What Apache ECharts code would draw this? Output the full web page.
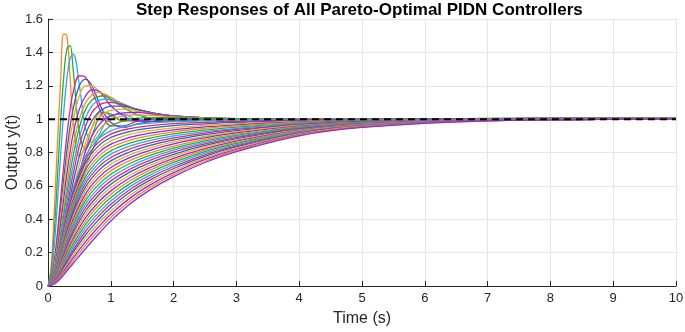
<!DOCTYPE html>
<html>
<head>
<meta charset="utf-8">
<script src="https://cdn.jsdelivr.net/npm/echarts@6/dist/echarts.min.js"></script>
<style>
  html, body { margin: 0; padding: 0; background: #fff; }
  #chart { width: 685px; height: 332px; }
</style>
</head>
<body>
<div id="chart"></div>
<script>
// time samples (s)
const tFast = [0, 0.05, 0.1, 0.15, 0.2, 0.25, 0.3, 0.35, 0.4, 0.5, 0.6, 0.7, 0.8, 0.9, 1.0, 1.2, 1.4, 1.7, 2, 2.5, 3, 4, 6, 10];
const tSlow = [0, 0.1, 0.2, 0.3, 0.4, 0.6, 0.8, 1.0, 1.3, 1.6, 2, 2.5, 3, 4, 5, 7, 10];

// responses with overshoot, sampled at tFast
const overshootCurves = [
  [0, .12, .45, .85, 1.22, 1.51, 1.50, 1.26, 1.00, .78, .83, .95, 1.03, 1.04, 1.02, .99, .995, 1.0, 1.0, 1.0, 1.0, 1.0, 1.002, 1.008],
  [0, .08, .32, .65, .98, 1.25, 1.42, 1.44, 1.30, .92, .82, .90, 1.0, 1.04, 1.03, .99, .99, 1.0, 1.0, 1.0, 1.0, 1.0, 1.002, 1.008],
  [0, .06, .24, .50, .78, 1.04, 1.24, 1.36, 1.39, 1.20, .94, .86, .90, .97, 1.02, 1.03, 1.0, .995, 1.0, 1.0, 1.0, 1.0, 1.002, 1.008],
  [0, .04, .15, .32, .52, .72, .90, 1.05, 1.16, 1.26, 1.25, 1.17, 1.08, 1.0, .96, .96, .985, 1.0, 1.005, 1.003, 1.0, 1.0, 1.002, 1.006],
  [0, .035, .13, .28, .46, .64, .81, .95, 1.06, 1.20, 1.24, 1.20, 1.11, 1.03, .98, .95, .97, .99, 1.0, 1.002, 1.0, 1.0, 1.002, 1.006],
  [0, .03, .12, .25, .41, .58, .74, .88, .99, 1.14, 1.20, 1.20, 1.17, 1.14, 1.11, 1.075, 1.05, 1.03, 1.018, 1.008, 1.003, 1.0, 1.002, 1.006],
  [0, .03, .10, .22, .37, .52, .67, .80, .91, 1.06, 1.14, 1.175, 1.17, 1.13, 1.08, 1.02, .99, .985, .99, 1.0, 1.0, 1.0, 1.002, 1.006],
  [0, .025, .09, .19, .32, .46, .60, .73, .84, 1.0, 1.10, 1.145, 1.16, 1.15, 1.13, 1.09, 1.06, 1.035, 1.02, 1.008, 1.003, 1.0, 1.002, 1.006],
  [0, .02, .08, .17, .29, .42, .55, .67, .78, .95, 1.06, 1.115, 1.135, 1.14, 1.12, 1.07, 1.03, 1.0, .99, .995, 1.0, 1.0, 1.002, 1.006],
  [0, .02, .07, .15, .26, .38, .50, .62, .72, .89, 1.01, 1.08, 1.11, 1.12, 1.115, 1.09, 1.06, 1.035, 1.02, 1.008, 1.003, 1.0, 1.002, 1.006],
  [0, .018, .065, .14, .24, .35, .46, .57, .67, .84, .96, 1.04, 1.08, 1.097, 1.10, 1.085, 1.06, 1.035, 1.02, 1.008, 1.003, 1.0, 1.002, 1.006],
  [0, .015, .06, .13, .22, .32, .42, .52, .62, .78, .91, .99, 1.04, 1.065, 1.078, 1.078, 1.06, 1.035, 1.02, 1.008, 1.003, 1.0, 1.002, 1.006],
  [0, .015, .055, .12, .20, .29, .39, .48, .57, .73, .86, .95, 1.0, 1.035, 1.052, 1.06, 1.05, 1.03, 1.018, 1.008, 1.003, 1.0, 1.002, 1.006],
  [0, .013, .05, .11, .18, .27, .36, .45, .53, .68, .81, .90, .96, 1.0, 1.02, 1.038, 1.04, 1.03, 1.018, 1.008, 1.003, 1.0, 1.002, 1.006],
  [0, .012, .045, .10, .17, .25, .33, .41, .49, .63, .76, .86, .93, .97, .995, 1.02, 1.025, 1.022, 1.015, 1.007, 1.003, 1.0, 1.002, 1.006],
  [0, .011, .04, .09, .155, .23, .31, .38, .45, .59, .71, .81, .88, .93, .96, .99, 1.005, 1.01, 1.01, 1.006, 1.003, 1.0, 1.002, 1.006]
];

// overdamped responses, fastest first, sampled at tSlow
const dampedCurves = [
  [0, .08, .25, .43, .58, .78, .88, .93, .96, .975, .985, .99, .994, .998, 1, 1, 1],
  [0, .077, .242, .417, .564, .759, .859, .91, .943, .96, .973, .981, .987, .995, .998, 1, 1],
  [0, .075, .235, .405, .547, .739, .838, .89, .925, .945, .961, .972, .98, .991, .996, .999, 1],
  [0, .072, .227, .392, .531, .718, .817, .87, .908, .93, .948, .962, .973, .987, .994, .999, 1],
  [0, .07, .22, .38, .514, .698, .796, .85, .89, .915, .936, .953, .966, .983, .993, .999, 1],
  [0, .067, .212, .367, .498, .677, .774, .83, .873, .9, .924, .944, .959, .98, .991, .998, 1],
  [0, .065, .204, .354, .481, .657, .753, .81, .856, .885, .912, .934, .952, .976, .989, .998, 1],
  [0, .062, .197, .342, .465, .636, .732, .79, .838, .87, .899, .925, .945, .973, .987, .997, 1],
  [0, .06, .189, .329, .448, .616, .711, .77, .821, .855, .887, .916, .938, .969, .985, .997, 1],
  [0, .057, .182, .317, .432, .595, .69, .75, .803, .84, .875, .907, .931, .965, .983, .997, 1],
  [0, .055, .174, .304, .415, .575, .669, .73, .786, .825, .863, .897, .924, .962, .981, .996, 1],
  [0, .052, .166, .291, .399, .554, .648, .71, .769, .81, .851, .888, .917, .958, .98, .996, 1],
  [0, .05, .159, .279, .382, .533, .627, .69, .751, .795, .838, .879, .91, .954, .978, .996, 1],
  [0, .047, .151, .266, .366, .513, .606, .67, .734, .78, .826, .87, .903, .951, .976, .995, 1],
  [0, .045, .144, .254, .349, .492, .584, .65, .716, .765, .814, .86, .896, .947, .974, .995, 1],
  [0, .042, .136, .241, .333, .472, .563, .63, .699, .75, .802, .851, .889, .944, .972, .994, 1],
  [0, .04, .128, .228, .316, .451, .542, .61, .682, .735, .789, .842, .882, .94, .97, .994, 1],
  [0, .037, .121, .216, .3, .431, .521, .59, .664, .72, .777, .833, .875, .936, .969, .994, 1],
  [0, .035, .113, .203, .283, .41, .5, .57, .647, .705, .765, .823, .868, .933, .967, .993, 1],
  [0, .032, .106, .191, .267, .389, .479, .55, .629, .69, .753, .814, .861, .929, .965, .993, 1],
  [0, .03, .098, .178, .25, .369, .458, .53, .612, .675, .741, .805, .854, .925, .963, .993, 1],
  [0, .027, .091, .166, .234, .348, .437, .51, .594, .66, .728, .796, .847, .922, .961, .992, 1],
  [0, .025, .083, .153, .217, .328, .416, .49, .577, .645, .716, .786, .84, .918, .959, .992, 1],
  [0, .022, .075, .14, .201, .307, .394, .47, .56, .63, .704, .777, .833, .915, .957, .991, 1],
  [0, .02, .068, .128, .184, .287, .373, .45, .542, .615, .692, .768, .826, .911, .956, .991, 1],
  [0, .017, .06, .115, .168, .266, .352, .43, .525, .6, .679, .759, .819, .907, .954, .991, 1],
  [0, .015, .053, .103, .151, .246, .331, .41, .507, .585, .667, .749, .812, .904, .952, .99, 1],
  [0, .012, .045, .09, .135, .225, .31, .39, .49, .57, .655, .74, .805, .9, .95, .99, 1]
];

const palette = ['#F08A2C', '#35A63A', '#22AEE8', '#E2237F', '#2464C8', '#F2AA1F', '#8A2BE2'];
const yTicks = [0, 0.2, 0.4, 0.6, 0.8, 1, 1.2, 1.4, 1.6];
const refLevel = 1;

const makeLine = (times, vals, color) => ({
  type: 'line',
  data: times.map((t, i) => [t, vals[i]]),
  smooth: 0.4,
  showSymbol: false,
  silent: true,
  lineStyle: { color, width: 1.3 },
  z: 2
});

const series = [];
overshootCurves.forEach(c => series.push(makeLine(tFast, c, palette[series.length % palette.length])));
dampedCurves.forEach((c, k) => {
  const color = k === dampedCurves.length - 1 ? '#8A2BE2' : palette[series.length % palette.length];
  series.push(makeLine(tSlow, c, color));
});
series.push({
  type: 'line',
  data: [[0, refLevel], [10, refLevel]],
  showSymbol: false,
  silent: true,
  lineStyle: { color: '#000', width: 2, type: [7, 5] },
  z: 5
});

const chart = echarts.init(document.getElementById('chart'), null, { renderer: 'canvas' });
chart.setOption({
  animation: false,
  backgroundColor: '#fff',
  textStyle: { fontFamily: 'Liberation Sans, Arial, sans-serif' },
  title: {
    text: 'Step Responses of All Pareto-Optimal PIDN Controllers',
    left: 136,
    top: 2,
    padding: 0,
    textStyle: { fontSize: 17, fontWeight: 'bold', color: '#000', fontFamily: 'Liberation Sans, Arial, sans-serif' }
  },
  grid: { left: 48, right: 9, top: 19, bottom: 46, containLabel: false, outerBoundsMode: 'none' },
  xAxis: {
    type: 'value',
    min: 0,
    max: 10,
    interval: 1,
    name: 'Time (s)',
    nameLocation: 'middle',
    nameGap: 25,
    nameMoveOverlap: false,
    nameTextStyle: { fontSize: 16, color: '#262626' },
    axisLine: { show: true, lineStyle: { color: '#262626', width: 1 } },
    axisTick: { show: true, inside: true, length: 5, lineStyle: { color: '#262626' } },
    axisLabel: { fontSize: 13, color: '#262626', margin: 6 },
    splitLine: { show: true, lineStyle: { color: '#e5e5e5', width: 1 } }
  },
  yAxis: {
    type: 'value',
    min: 0,
    max: 1.6,
    interval: 0.2,
    name: 'Output y(t)',
    nameLocation: 'middle',
    nameGap: 27,
    nameMoveOverlap: false,
    nameTextStyle: { fontSize: 16, color: '#262626' },
    axisLine: { show: true, lineStyle: { color: '#262626', width: 1 } },
    axisTick: { show: true, inside: true, length: 5, lineStyle: { color: '#262626' } },
    axisLabel: {
      fontSize: 13,
      color: '#262626',
      margin: 5,
      formatter: v => String(yTicks.find(t => Math.abs(t - v) < 1e-6) ?? v)
    },
    splitLine: { show: true, lineStyle: { color: '#e5e5e5', width: 1 } }
  },
  series
});
</script>
</body>
</html>
